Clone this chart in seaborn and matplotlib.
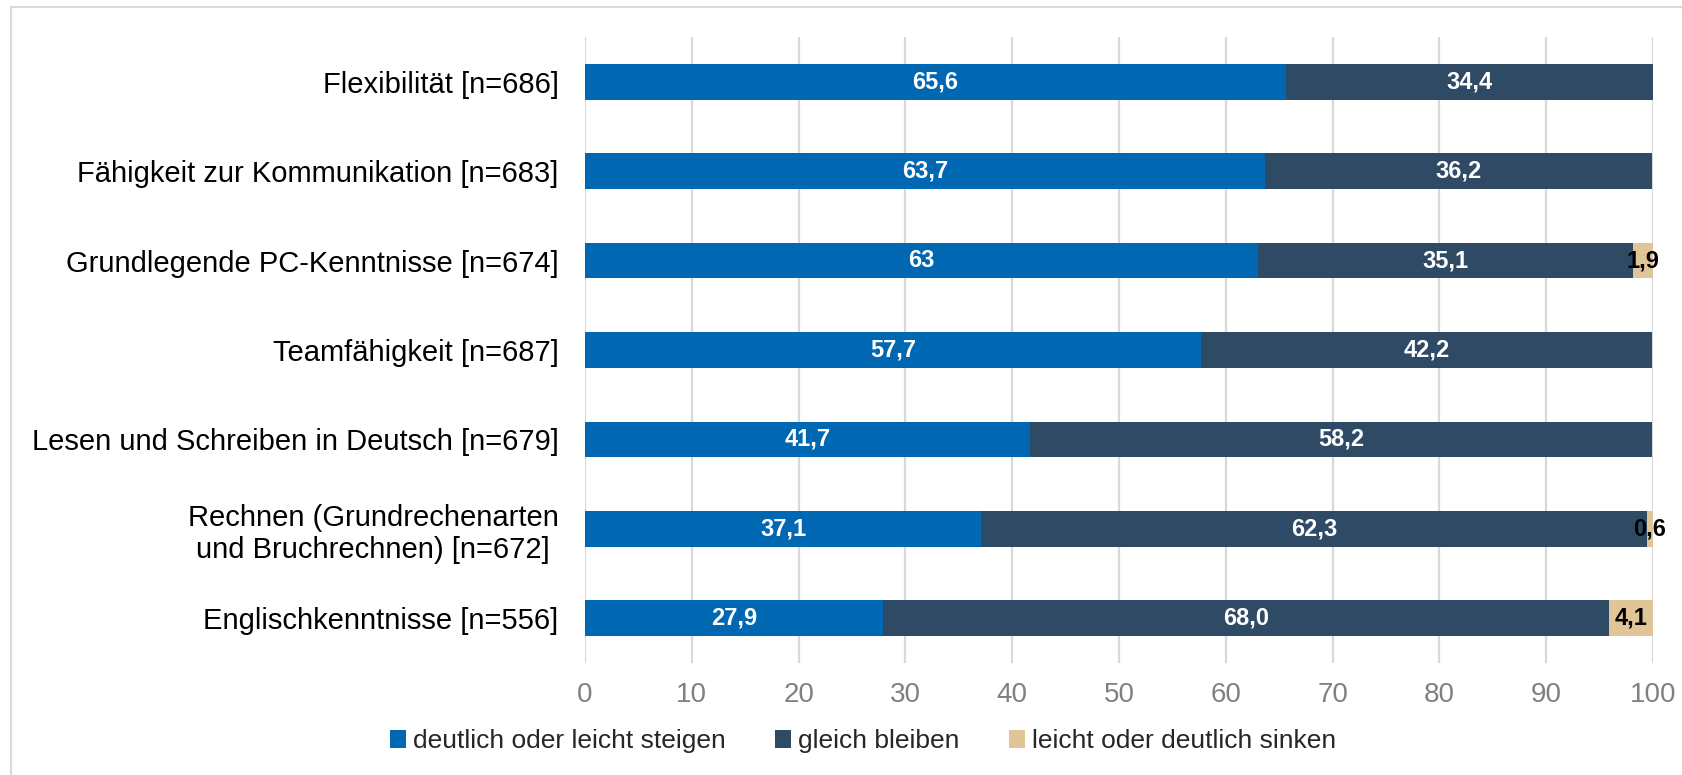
import matplotlib
matplotlib.use("Agg")
import matplotlib.pyplot as plt
import seaborn as sns
import pandas as pd
import numpy as np
from matplotlib.patches import Patch
from matplotlib.lines import Line2D

categories = [
    "Flexibilität [n=686]",
    "Fähigkeit zur Kommunikation [n=683]",
    "Grundlegende PC-Kenntnisse [n=674]",
    "Teamfähigkeit [n=687]",
    "Lesen und Schreiben in Deutsch [n=679]",
    "Rechnen (Grundrechenarten\nund Bruchrechnen) [n=672]",
    "Englischkenntnisse [n=556]",
]
steigen = [65.6, 63.7, 63.0, 57.7, 41.7, 37.1, 27.9]
gleich = [34.4, 36.2, 35.1, 42.2, 58.2, 62.3, 68.0]
sinken = [0.0, 0.0, 1.9, 0.0, 0.0, 0.6, 4.1]
steigen_labels = ["65,6", "63,7", "63", "57,7", "41,7", "37,1", "27,9"]
gleich_labels = ["34,4", "36,2", "35,1", "42,2", "58,2", "62,3", "68,0"]
sinken_labels = ["", "", "1,9", "", "", "0,6", "4,1"]
series_names = ["deutlich oder leicht steigen", "gleich bleiben", "leicht oder deutlich sinken"]
colors = ["#0068B2", "#2E4A65", "#E0C598"]
xticks = [0, 10, 20, 30, 40, 50, 60, 70, 80, 90, 100]

sns.set_style("white")
plt.rcParams["font.family"] = ["Liberation Sans", "DejaVu Sans"]

W, H = 1683, 775
fig = plt.figure(figsize=(W / 100, H / 100), dpi=100)
ax = fig.add_axes([585 / W, 1 - 663 / H, (1653 - 585) / W, (663 - 37) / H])

df = pd.DataFrame({"cat": categories, "s": steigen, "g": gleich, "k": sinken})
df["sg"] = df["s"] + df["g"]
df["total"] = df["sg"] + df["k"]

bar_w = 0.40
sns.barplot(data=df, y="cat", x="total", color=colors[2], saturation=1, width=bar_w,
            orient="h", ax=ax, edgecolor="none", zorder=2)
sns.barplot(data=df, y="cat", x="sg", color=colors[1], saturation=1, width=bar_w,
            orient="h", ax=ax, edgecolor="none", zorder=3)
sns.barplot(data=df, y="cat", x="s", color=colors[0], saturation=1, width=bar_w,
            orient="h", ax=ax, edgecolor="none", zorder=4)

vfs = 17
for i in range(len(categories)):
    ax.text(steigen[i] / 2, i, steigen_labels[i], ha="center", va="center",
            color="white", fontsize=vfs, fontweight="bold", zorder=5)
    ax.text(steigen[i] + gleich[i] / 2, i, gleich_labels[i], ha="center", va="center",
            color="white", fontsize=vfs, fontweight="bold", zorder=5)
    if sinken_labels[i]:
        ax.text(steigen[i] + gleich[i] + sinken[i] / 2, i, sinken_labels[i], ha="center",
                va="center", color="black", fontsize=vfs, fontweight="bold", zorder=5)

ax.set_xlim(0, 100)
ax.set_ylim(6.5, -0.5)
ax.set_xticks(xticks)
ax.set_xticklabels([str(t) for t in xticks])
ax.set_xlabel("")
ax.set_ylabel("")
ax.grid(axis="x", color="#D9D9D9", linewidth=1.6, zorder=0)
ax.set_axisbelow(True)
for s in ax.spines.values():
    s.set_visible(False)
ax.tick_params(axis="x", length=0, pad=14, labelsize=20, labelcolor="#808080")
ax.tick_params(axis="y", length=0, pad=19, labelsize=21, labelcolor="black")
for lab in ax.get_yticklabels():
    lab.set_multialignment("center")

handles = [Patch(facecolor=c, edgecolor="none") for c in colors]
fig.legend(handles, series_names, loc="center", bbox_to_anchor=(863 / W, 1 - 741 / H),
           ncol=3, frameon=False, fontsize=19, handlelength=0.6, handleheight=0.7,
           handletextpad=0.25, columnspacing=1.9)

# outer frame
fig.add_artist(Line2D([11 / W, 11 / W], [0, 1 - 7 / H], color="#D9D9D9", linewidth=1.5,
                      transform=fig.transFigure))
fig.add_artist(Line2D([11 / W, 1], [1 - 7 / H, 1 - 7 / H], color="#D9D9D9", linewidth=1.5,
                      transform=fig.transFigure))

fig.savefig("out.png", dpi=100)
